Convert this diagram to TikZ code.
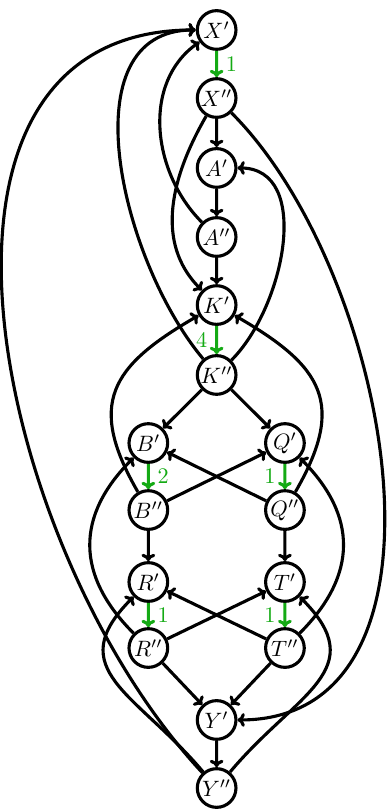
\documentclass[tikz,border=0pt]{standalone}
\usepackage{amsmath}
\usepackage{tikz}
\usetikzlibrary{positioning,arrows.meta}
\definecolor{wgreen}{RGB}{20,170,20}

\begin{document}
\begin{tikzpicture}[scale=0.2, >={To[length=3.3pt,width=6.2pt]},
  state/.style={circle, draw=black, line width=1.4pt, minimum size=17.4pt, inner sep=0pt},
  edge/.style={->, black, line width=1.4pt},
  wedge/.style={->, wgreen, line width=1.4pt}]
\tikzstyle{every node}+=[inner sep=0pt]
\useasboundingbox (0,0) rectangle (30.68,-63.97);
\node [state] (Xp) at (17.13,-2.37) {$X'$};
\node [state] (Xpp) at (17.13,-7.75) {$X''$};
\node [state] (Ap) at (17.13,-13.28) {$A'$};
\node [state] (App) at (17.13,-18.74) {$A''$};
\node [state] (Kp) at (17.13,-24.12) {$K'$};
\node [state] (Kpp) at (17.13,-29.65) {$K''$};
\node [state] (Bp) at (11.73,-35.03) {$B'$};
\node [state] (Bpp) at (11.73,-40.33) {$B''$};
\node [state] (Qp) at (22.53,-35.03) {$Q'$};
\node [state] (Qpp) at (22.53,-40.33) {$Q''$};
\node [state] (Rp) at (11.73,-46.02) {$R'$};
\node [state] (Rpp) at (11.73,-51.24) {$R''$};
\node [state] (Tp) at (22.53,-46.02) {$T'$};
\node [state] (Tpp) at (22.53,-51.24) {$T''$};
\node [state] (Yp) at (17.13,-56.93) {$Y'$};
\node [state] (Ypp) at (17.13,-62.31) {$Y''$};
\draw [wedge] (Xp) -- node [right=3.5pt] {$1$} (Xpp);
\draw [wedge] (Kp) -- node [left=3.5pt] {$4$} (Kpp);
\draw [wedge] (Bp) -- node [right=3.5pt] {$2$} (Bpp);
\draw [wedge] (Qp) -- node [left=3.5pt] {$1$} (Qpp);
\draw [wedge] (Rp) -- node [right=3.5pt] {$1$} (Rpp);
\draw [wedge] (Tp) -- node [left=3.5pt] {$1$} (Tpp);
\draw [edge] (Xpp) -- (Ap);
\draw [edge] (Ap) -- (App);
\draw [edge] (App) -- (Kp);
\draw [edge] (Kpp) -- (Bp);
\draw [edge] (Kpp) -- (Qp);
\draw [edge] (Bpp) -- (Qp);
\draw [edge] (Qpp) -- (Bp);
\draw [edge] (Bpp) -- (Rp);
\draw [edge] (Qpp) -- (Tp);
\draw [edge] (Rpp) -- (Tp);
\draw [edge] (Tpp) -- (Rp);
\draw [edge] (Rpp) -- (Yp);
\draw [edge] (Tpp) -- (Yp);
\draw [edge] (Yp) -- (Ypp);
\draw [edge] (Xpp) to [out=240,in=135] (Kp);
\draw [edge] (App) to [out=135,in=215] (Xp);
\draw [edge] (Kpp) to [out=130,in=180] (Xp);
\draw [edge] (Ypp.133) .. controls +(133:24.2) and +(-24.6,0) .. (Xp.west);
\draw [edge] (Kpp) to [out=45,in=0] (Ap);
\draw [edge] (Xpp.-45) .. controls +(-45:18) and +(18.5,0) .. (Yp.east);
\draw [edge] (Bpp) to [out=120,in=210,looseness=1.4] (Kp);
\draw [edge] (Qpp) to [out=60,in=-30,looseness=1.4] (Kp);
\draw [edge] (Rpp) to [out=135,in=225,looseness=1.2] (Bp);
\draw [edge] (Tpp) to [out=45,in=-45,looseness=1.2] (Qp);
\draw [edge] (Ypp) to [out=130,in=225,looseness=1.4] (Rp);
\draw [edge] (Ypp) to [out=50,in=-45,looseness=1.4] (Tp);
\end{tikzpicture}
\end{document}
